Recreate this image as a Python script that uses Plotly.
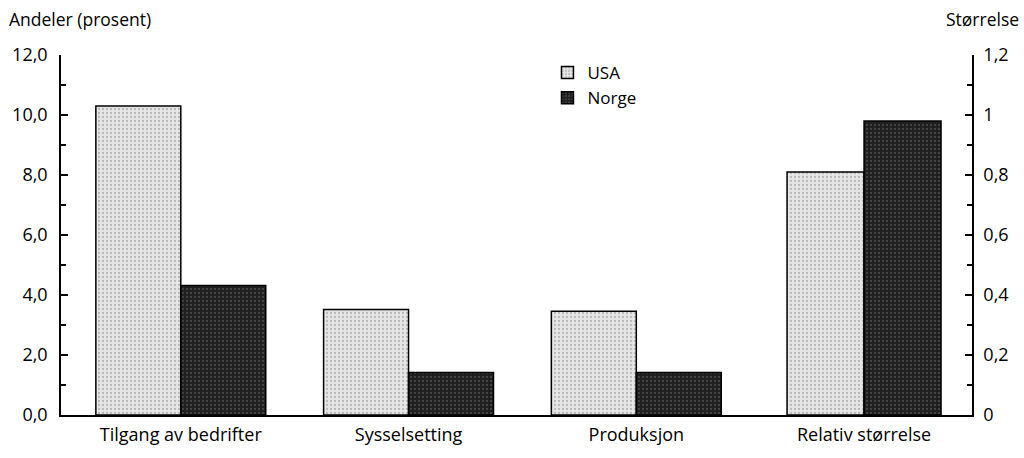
import plotly.graph_objects as go

categories = ["Tilgang av bedrifter", "Sysselsetting", "Produksjon", "Relativ størrelse"]
usa_pct = [10.3, 3.52, 3.46]          # left axis (prosent)
norge_pct = [4.32, 1.42, 1.42]
usa_size = [0.81]                      # right axis (størrelse)
norge_size = [0.98]
left_ticks = [0, 2, 4, 6, 8, 10, 12]
right_tickvals = [0, 0.2, 0.4, 0.6, 0.8, 1.0, 1.2]
right_ticktext = ["0", "0,2", "0,4", "0,6", "0,8", "1", "1,2"]

FONT = "Open Sans"
FS = 18
W = 0.373
W2 = 0.338

usa_style = dict(color="#dcdcdc", line=dict(color="black", width=1.5),
                 pattern=dict(shape=".", fgcolor="#8a8a8a", bgcolor="#e6e6e6", size=4, solidity=0.25))
norge_style = dict(color="#2a2a2a", line=dict(color="black", width=1.5),
                   pattern=dict(shape=".", fgcolor="#6a6a6a", bgcolor="#1e1e1e", size=4, solidity=0.25))

fig = go.Figure()
fig.add_trace(go.Bar(x=[0, 1, 2], y=usa_pct, name="USA", width=W, offset=-W,
                     marker=usa_style, yaxis="y"))
fig.add_trace(go.Bar(x=[0, 1, 2], y=norge_pct, name="Norge", width=W, offset=0,
                     marker=norge_style, yaxis="y"))
fig.add_trace(go.Bar(x=[3], y=usa_size, name="USA", width=W2, offset=-W2,
                     marker=usa_style, yaxis="y2", showlegend=False))
fig.add_trace(go.Bar(x=[3], y=norge_size, name="Norge", width=W2, offset=0,
                     marker=norge_style, yaxis="y2", showlegend=False))

fig.update_layout(
    width=1024, height=458,
    margin=dict(l=60, r=52, t=55, b=40),
    paper_bgcolor="white", plot_bgcolor="white",
    font=dict(family=FONT, size=FS, color="black"),
    separators=",.",
    barmode="overlay",
    showlegend=True,
    legend=dict(x=0.534, y=1.0, xanchor="left", yanchor="top",
                bgcolor="rgba(0,0,0,0)", font=dict(size=FS - 1),
                itemwidth=30, tracegroupgap=0),
    xaxis=dict(
        range=[-0.526, 3.474], tickmode="array", tickvals=[0, 1, 2, 3], ticktext=categories,
        showline=True, linecolor="black", linewidth=2, ticks="", showgrid=False,
        zeroline=False, tickfont=dict(size=FS), ticklabelstandoff=2,
    ),
    yaxis=dict(
        range=[0, 12], tickmode="array", tickvals=left_ticks, tickformat=".1f",
        showline=True, linecolor="black", linewidth=1.5, ticks="inside", ticklen=7,
        tickwidth=1.5, tickcolor="black", showgrid=False, zeroline=False,
        minor=dict(dtick=1, ticks="inside", ticklen=5, tickwidth=1.5, tickcolor="black", showgrid=False),
        tickfont=dict(size=FS), ticklabelstandoff=8,
    ),
    yaxis2=dict(
        range=[0, 1.2], overlaying="y", side="right", tickmode="array",
        tickvals=right_tickvals, ticktext=right_ticktext,
        showline=True, linecolor="black", linewidth=1.5, ticks="inside", ticklen=7,
        tickwidth=1.5, tickcolor="black", showgrid=False, zeroline=False,
        minor=dict(dtick=0.1, ticks="inside", ticklen=5, tickwidth=1.5, tickcolor="black", showgrid=False),
        tickfont=dict(size=FS), ticklabelstandoff=6,
    ),
    annotations=[
        dict(text="Andeler (prosent)", x=0, y=1, xref="paper", yref="paper", xshift=-54, yshift=22,
             xanchor="left", yanchor="bottom", showarrow=False, font=dict(size=FS - 0.5)),
        dict(text="Størrelse", x=1, y=1, xref="paper", yref="paper", xshift=49, yshift=22,
             xanchor="right", yanchor="bottom", showarrow=False, font=dict(size=FS - 0.5)),
    ],
)

fig.write_html("out.html", config={"displayModeBar": False},
               post_script="document.body.style.margin='0';")
